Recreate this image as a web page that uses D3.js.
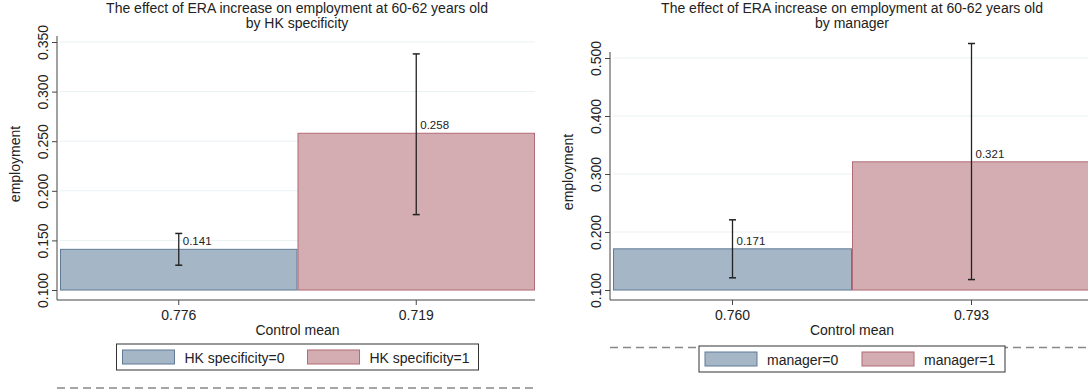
<!DOCTYPE html>
<html><head><meta charset="utf-8">
<script src="https://cdn.jsdelivr.net/npm/d3@7"></script>
<style>body{margin:0;background:#fff}svg{display:block;font-family:"Liberation Sans",Arial,sans-serif}</style>
</head><body><svg id="c" width="1088" height="392"></svg>
<script>
// Panel 1: by HK specificity
const hkGroups = ["HK specificity=0", "HK specificity=1"];
const hkControlMean = ["0.776", "0.719"];
const hkEffect = [0.141, 0.258];
const hkLow = [0.125, 0.176];
const hkHigh = [0.157, 0.338];
const hkTicks = [0.100, 0.150, 0.200, 0.250, 0.300, 0.350];

// Panel 2: by manager
const mgGroups = ["manager=0", "manager=1"];
const mgControlMean = ["0.760", "0.793"];
const mgEffect = [0.171, 0.321];
const mgLow = [0.121, 0.118];
const mgHigh = [0.221, 0.525];
const mgTicks = [0.100, 0.200, 0.300, 0.400, 0.500];

const fills = ["#a5b6c6", "#d3adb1"];
const strokes = ["#607b96", "#b26b75"];

const svg = d3.select("#c");

function panel(o) {
  const g = svg.append("g");
  const y = d3.scaleLinear().domain(o.domain).range([290, o.topY]);
  const x = d3.scaleBand().domain(o.controlMean).range([o.x0, o.x1]).padding(0);
  const base = o.domain[0];
  const cxp = (o.x0 + o.x1) / 2;
  // gridlines
  g.selectAll(".grid").data(o.ticks).join("line")
    .attr("x1", o.x0).attr("x2", o.x1).attr("y1", d => y(d)).attr("y2", d => y(d))
    .attr("stroke", "#e9f1f3").attr("stroke-width", 1);
  // bars
  g.selectAll(".bar").data(o.effect).join("rect")
    .attr("x", (d, i) => x(o.controlMean[i]) + 0.5).attr("width", x.bandwidth() - 1)
    .attr("y", d => y(d)).attr("height", d => y(base) - y(d))
    .attr("fill", (d, i) => fills[i]).attr("stroke", (d, i) => strokes[i]).attr("stroke-width", 1);
  // error bars
  const cx = i => x(o.controlMean[i]) + x.bandwidth() / 2;
  o.effect.forEach((d, i) => {
    const c = cx(i);
    g.append("line").attr("x1", c).attr("x2", c).attr("y1", y(o.low[i])).attr("y2", y(o.high[i]))
      .attr("stroke", "#222").attr("stroke-width", 1.3);
    [o.low[i], o.high[i]].forEach(v => g.append("line").attr("x1", c - 3.5).attr("x2", c + 3.5)
      .attr("y1", y(v)).attr("y2", y(v)).attr("stroke", "#222").attr("stroke-width", 1.5));
    g.append("text").attr("x", c + 4).attr("y", y(d) - 4).attr("font-size", 11.5).attr("fill", "#222")
      .text(d3.format(".3f")(d));
  });
  // y axis
  const ya = g.append("g").attr("transform", `translate(${o.x0 - 3},0)`)
    .call(d3.axisLeft(y).tickValues(o.ticks).tickFormat(d3.format(".3f")).tickSize(5).tickSizeOuter(0));
  ya.select(".domain").attr("d", `M0,${o.topY - 6}V300`).attr("stroke", "#444");
  ya.selectAll(".tick line").attr("stroke", "#444");
  ya.selectAll(".tick text").attr("font-size", 14).attr("fill", "#222").attr("font-family", "Liberation Sans, Arial")
    .attr("transform", "rotate(-90)").attr("x", 0).attr("y", -9).attr("dy", 0).attr("text-anchor", "middle");
  // x axis
  const xa = g.append("g").attr("transform", `translate(0,300)`)
    .call(d3.axisBottom(x).tickSize(5).tickSizeOuter(0));
  xa.select(".domain").attr("d", `M${o.x0 - 3},0H${o.x1}`).attr("stroke", "#444");
  xa.selectAll(".tick line").attr("stroke", "#444");
  xa.selectAll(".tick text").attr("font-size", 14).attr("fill", "#222").attr("font-family", "Liberation Sans, Arial").attr("y", 10);
  // axis titles
  g.append("text").attr("x", cxp).attr("y", 335).attr("text-anchor", "middle")
    .attr("font-size", 14).attr("fill", "#222").text("Control mean");
  g.append("text").attr("transform", `translate(${o.x0 - 40},${(o.topY + 290) / 2 - 2}) rotate(-90)`)
    .attr("text-anchor", "middle").attr("font-size", 14).attr("fill", "#222").text("employment");
  // title
  g.append("text").attr("x", o.titleX).attr("y", 13).attr("text-anchor", "middle").attr("font-size", 14).attr("fill", "#222")
    .text("The effect of ERA increase on employment at 60-62 years old");
  g.append("text").attr("x", o.titleX).attr("y", 27.5).attr("text-anchor", "middle").attr("font-size", 14).attr("fill", "#222")
    .text(o.sub);
  // dashed line
  g.append("line").attr("x1", o.x0 - 3).attr("x2", o.x1).attr("y1", o.dashY).attr("y2", o.dashY)
    .attr("stroke", "#888").attr("stroke-width", 1.3).attr("stroke-dasharray", "8,5");
  // legend
  const lg = g.append("g").attr("transform", `translate(${cxp - o.legW / 2},${o.legY})`);
  lg.append("rect").attr("width", o.legW).attr("height", 26).attr("fill", "#fff").attr("stroke", "#333");
  o.groups.forEach((name, i) => {
    const ox = 6 + i * o.legStep;
    lg.append("rect").attr("x", ox).attr("y", 6).attr("width", 52).attr("height", 14)
      .attr("fill", fills[i]).attr("stroke", strokes[i]).attr("stroke-width", 1);
    lg.append("text").attr("x", ox + 62).attr("y", 18.5).attr("font-size", 14).attr("fill", "#222").text(name);
  });
}

panel({domain: [0.1, 0.35], topY: 42, ticks: hkTicks, controlMean: hkControlMean, effect: hkEffect,
  low: hkLow, high: hkHigh, groups: hkGroups, x0: 60, x1: 535, titleX: 297, sub: "by HK specificity",
  dashY: 388, legY: 344, legW: 362, legStep: 185});
panel({domain: [0.1, 0.5], topY: 58, ticks: mgTicks, controlMean: mgControlMean, effect: mgEffect,
  low: mgLow, high: mgHigh, groups: mgGroups, x0: 613, x1: 1091, titleX: 852, sub: "by manager",
  dashY: 347.5, legY: 346, legW: 306, legStep: 157});
</script></body></html>
